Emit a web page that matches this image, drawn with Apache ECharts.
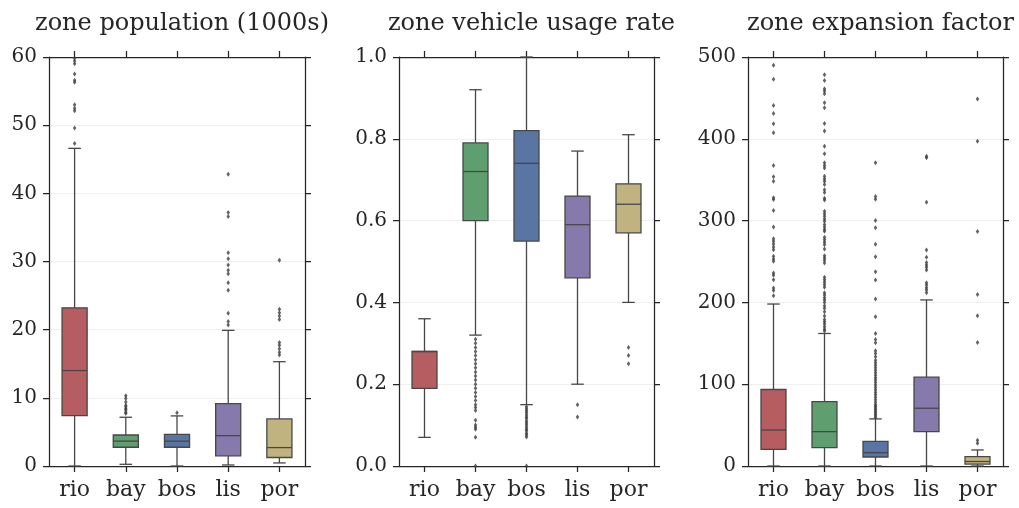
<!DOCTYPE html>
<html>
<head>
<meta charset="utf-8">
<script src="https://cdn.jsdelivr.net/npm/echarts@6/dist/echarts.min.js"></script>
<style>
html,body{margin:0;padding:0;background:#fff;}
#chart{width:1019px;height:508px;}
</style>
</head>
<body>
<div id="chart"></div>
<script>
// ---------- data ----------
const categories = ['rio', 'bay', 'bos', 'lis', 'por'];
const titles = ['zone population (1000s)', 'zone vehicle usage rate', 'zone expansion factor'];

// box values per category: [lower whisker, Q1, median, Q3, upper whisker]
const popBoxes = [
  [0, 7.4, 14.0, 23.2, 46.6],
  [0.25, 2.75, 3.65, 4.55, 7.15],
  [0, 2.75, 3.65, 4.65, 7.35],
  [0.15, 1.5, 4.45, 9.15, 19.9],
  [0.45, 1.25, 2.7, 6.9, 15.3]
];
const popOutliers = [
  [47.3, 49.6, 52.1, 52.5, 53.0, 56.3, 56.6, 57.5, 59.0, 59.4, 59.8],
  [7.7, 7.9, 8.2, 8.4, 8.7, 8.9, 9.4, 9.9, 10.3],
  [7.8],
  [20.7, 21.2, 22.4, 25.8, 26.9, 28.2, 28.7, 29.5, 30.4, 31.3, 36.6, 37.2, 42.8],
  [16.3, 16.7, 17.2, 17.7, 18.1, 21.5, 22.0, 22.5, 23.0, 30.2]
];
const popTicks = [0, 60, 10];

const usageBoxes = [
  [0.07, 0.19, 0.28, 0.28, 0.36],
  [0.32, 0.60, 0.72, 0.79, 0.92],
  [0.15, 0.55, 0.74, 0.82, 1.0],
  [0.20, 0.46, 0.59, 0.66, 0.77],
  [0.40, 0.57, 0.64, 0.69, 0.81]
];
const usageOutliers = [
  [],
  [0.0, 0.07, 0.09, 0.095, 0.10, 0.112, 0.136, 0.143, 0.15, 0.16, 0.17, 0.18, 0.19, 0.20, 0.21, 0.22, 0.23, 0.24, 0.25, 0.26, 0.27, 0.28, 0.29, 0.30, 0.31],
  [0.0, 0.071, 0.076, 0.08, 0.086, 0.09, 0.095, 0.10, 0.105, 0.11, 0.116, 0.12, 0.125, 0.13, 0.135, 0.14, 0.145],
  [0.12, 0.15],
  [0.25, 0.27, 0.29]
];
const usageTicks = [0, 1, 0.2];

const expBoxes = [
  [0, 20.4, 44, 93.5, 198],
  [0, 22.4, 42, 78.8, 162],
  [0, 11, 16.3, 30.2, 57.6],
  [0, 42, 70.6, 108.6, 203],
  [0, 2.4, 5.5, 11.4, 19.6]
];
const expOutliers = [
  [208.2, 214.7, 217.6, 227.8, 233.1, 235.9, 250.2, 253.1, 256.3, 264.5, 267.8, 271.4, 274.7, 277.9, 292.2, 312.2, 325.7, 327.8, 348.2, 353.5, 367.3, 407.3, 418.4, 431, 440.8, 472.7, 489.8],
  [165, 167.3, 170.2, 173.5, 176.3, 179.2, 183.3, 188.6, 192.7, 196, 200, 202.9, 205.7, 209, 211.8, 218.4, 221.6, 224.5, 227.7, 230.6, 248.2, 251.4, 254.3, 257.1, 265.3, 270.6, 273.5, 276.7, 279.6, 286.9, 289, 292.2, 295.1, 299.2, 302, 305.3, 308.5, 311.4, 325.3, 327.3, 334.3, 337.6, 344.1, 348.1, 351, 354.2, 364.4, 367.3, 370.6, 381.6, 391, 409.4, 418.8, 438, 444, 455.1, 458.3, 461.2, 471.4, 478.3],
  [59, 61, 63, 65, 67, 69, 71, 73, 75, 78, 81, 84, 87, 90, 93, 96, 99, 102, 105, 108, 111, 114, 117, 120, 123.3, 126.1, 129.4, 133.5, 137.6, 140.8, 150.6, 154.7, 162, 182.4, 204.1, 227.3, 237.6, 255.9, 271, 291.4, 300, 326.1, 329.4, 370.6],
  [211.9, 215.1, 218, 221.3, 224.1, 239.7, 242.9, 245.8, 248.7, 255.2, 264.2, 322.3, 376.7, 378.7],
  [27.8, 31.4, 150.9, 183.6, 209.8, 286.7, 397.1, 448.6]
];
const expTicks = [0, 500, 100];

// ---------- style ----------
const palette = ['#b55d60', '#5f9e6e', '#5975a4', '#857aab', '#c1b37f'];
const edge = '#474747';
const ink = '#262626';
const FONT = '"DejaVu Serif", serif';
const panels = [
  {boxes: popBoxes, outs: popOutliers, ticks: popTicks, dec: 0, left: 49, width: 256},
  {boxes: usageBoxes, outs: usageOutliers, ticks: usageTicks, dec: 1, left: 399, width: 255},
  {boxes: expBoxes, outs: expOutliers, ticks: expTicks, dec: 0, left: 748, width: 255}
];

function renderBox(params, api) {
  const x = api.value(0);
  const lo = api.coord([x, api.value(1)]);
  const q1 = api.coord([x, api.value(2)]);
  const md = api.coord([x, api.value(3)]);
  const q3 = api.coord([x, api.value(4)]);
  const hi = api.coord([x, api.value(5)]);
  const band = api.size([1, 0])[0];
  const bw = band * 0.49;
  const cw = bw * 0.5;
  const cx = lo[0];
  const ls = {stroke: edge, lineWidth: 1.3, fill: null};
  return {
    type: 'group',
    children: [
      {type: 'line', shape: {x1: cx, y1: lo[1], x2: cx, y2: q1[1]}, style: ls},
      {type: 'line', shape: {x1: cx, y1: q3[1], x2: cx, y2: hi[1]}, style: ls},
      {type: 'line', shape: {x1: cx - cw / 2, y1: lo[1], x2: cx + cw / 2, y2: lo[1]}, style: ls},
      {type: 'line', shape: {x1: cx - cw / 2, y1: hi[1], x2: cx + cw / 2, y2: hi[1]}, style: ls},
      {type: 'rect', shape: {x: cx - bw / 2, y: q3[1], width: bw, height: q1[1] - q3[1]},
        style: {fill: palette[x], stroke: edge, lineWidth: 1.3}},
      {type: 'line', shape: {x1: cx - bw / 2, y1: md[1], x2: cx + bw / 2, y2: md[1]}, style: ls}
    ]
  };
}

const grid = [], xAxis = [], yAxis = [], series = [], title = [];
panels.forEach((p, i) => {
  grid.push({left: p.left, width: p.width, top: 57, height: 409, containLabel: false});
  title.push({
    text: titles[i], left: p.left + p.width / 2, top: 7, textAlign: 'center',
    textStyle: {fontFamily: FONT, fontSize: 24, fontWeight: 'normal', color: ink}
  });
  const axLine = {show: true, onZero: false, lineStyle: {color: ink, width: 1.25}};
  const tick = {show: true, inside: false, length: 6, alignWithLabel: true, interval: 0, lineStyle: {color: ink, width: 1.25}};
  xAxis.push({
    type: 'category', gridIndex: i, position: 'bottom', data: categories,
    axisLine: axLine, axisTick: tick,
    axisLabel: {fontFamily: FONT, fontSize: 22, color: ink, margin: 13, interval: 0, hideOverlap: false},
    splitLine: {show: false}
  });
  xAxis.push({
    type: 'category', gridIndex: i, position: 'top', data: categories,
    axisLine: axLine, axisTick: tick, axisLabel: {show: false}, splitLine: {show: false}
  });
  const [mn, mx, iv] = p.ticks;
  yAxis.push({
    type: 'value', gridIndex: i, position: 'left', min: mn, max: mx, interval: iv,
    axisLine: axLine, axisTick: tick,
    axisLabel: {fontFamily: FONT, fontSize: 20, color: ink, margin: 12,
      formatter: v => v.toFixed(p.dec)},
    splitLine: {show: true, lineStyle: {color: '#efefef', width: 1}}
  });
  yAxis.push({
    type: 'value', gridIndex: i, position: 'right', min: mn, max: mx, interval: iv,
    axisLine: axLine, axisTick: tick, axisLabel: {show: false}, splitLine: {show: false}
  });
  series.push({
    type: 'custom', xAxisIndex: 2 * i, yAxisIndex: 2 * i,
    renderItem: renderBox,
    encode: {x: 0, y: [1, 2, 3, 4, 5]},
    data: p.boxes.map((b, k) => [k].concat(b)),
    clip: false, z: 2
  });
  const pts = [];
  p.outs.forEach((arr, k) => arr.forEach(v => pts.push([k, v])));
  series.push({
    type: 'scatter', xAxisIndex: 2 * i, yAxisIndex: 2 * i,
    symbol: 'diamond', symbolSize: [3.5, 5],
    itemStyle: {color: '#3d3d3d'},
    data: pts, z: 3, silent: true
  });
});

const chart = echarts.init(document.getElementById('chart'), null, {renderer: 'canvas'});
chart.setOption({
  animation: false,
  backgroundColor: '#ffffff',
  title, grid, xAxis, yAxis, series
});
</script>
</body>
</html>
